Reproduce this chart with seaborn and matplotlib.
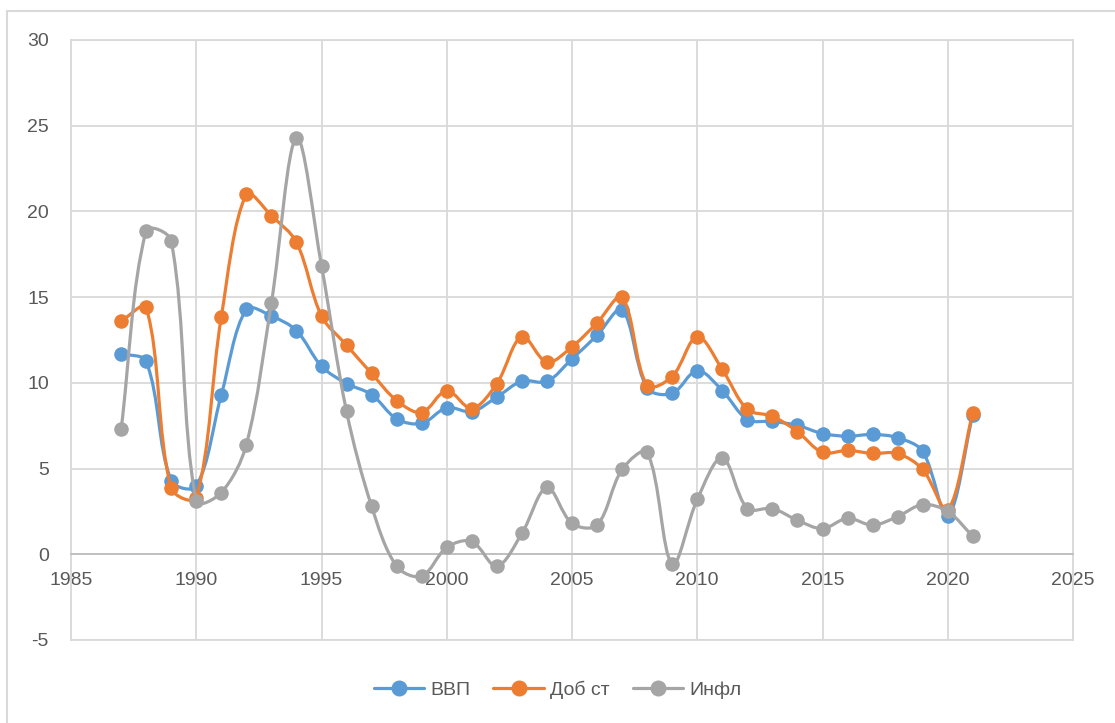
import numpy as np
import pandas as pd
import matplotlib
matplotlib.use('Agg')
import matplotlib.pyplot as plt
import seaborn as sns
from matplotlib.path import Path
from matplotlib.patches import PathPatch
from matplotlib.lines import Line2D

years = list(range(1987, 2022))
vvp = [11.7, 11.25, 4.3, 3.97, 9.3, 14.3, 13.9, 13.05, 10.97, 9.96, 9.32, 7.9,
       7.63, 8.55, 8.32, 9.17, 10.1, 10.08, 11.4, 12.77, 14.27, 9.7, 9.38, 10.72,
       9.55, 7.86, 7.75, 7.52, 7.04, 6.89, 6.99, 6.8, 6.0, 2.22, 8.15]
dob = [13.6, 14.4, 3.85, 3.3, 13.85, 21.0, 19.75, 18.2, 13.9, 12.2, 10.55, 8.97,
       8.27, 9.55, 8.5, 9.96, 12.7, 11.2, 12.1, 13.5, 15.0, 9.84, 10.37, 12.7,
       10.78, 8.45, 8.05, 7.16, 5.94, 6.06, 5.88, 5.88, 4.95, 2.6, 8.27]
infl = [7.28, 18.87, 18.3, 3.1, 3.6, 6.4, 14.67, 24.3, 16.83, 8.33, 2.8, -0.7,
        -1.28, 0.4, 0.75, -0.7, 1.22, 3.9, 1.8, 1.7, 4.95, 5.94, -0.58, 3.2,
        5.64, 2.67, 2.67, 1.98, 1.5, 2.1, 1.7, 2.2, 2.9, 2.5, 1.05]

names = ['ВВП', 'Доб ст', 'Инфл']
colors = ['#5B9BD5', '#ED7D31', '#A5A5A5']

df = pd.DataFrame({'year': years * 3,
                   'value': vvp + dob + infl,
                   'series': [n for n in names for _ in years]})


def smooth_path(x, y, sx=25.0, sy=17.17, t=1 / 3):
    # excel-like smoothed line: bezier with tangents weighted by segment length
    pts = np.column_stack([x, y]).astype(float)
    scale = np.array([sx, sy])
    n = len(pts)
    seg = [np.linalg.norm((pts[i + 1] - pts[i]) * scale) for i in range(n - 1)]
    out_c, in_c = [], []
    for i in range(n):
        p_prev = pts[max(i - 1, 0)]
        p_next = pts[min(i + 1, n - 1)]
        d = p_next - p_prev
        l_in = seg[i - 1] if i > 0 else 0.0
        l_out = seg[i] if i < n - 1 else 0.0
        tot = l_in + l_out if (l_in + l_out) > 0 else 1.0
        out_c.append(pts[i] + d * t * l_out / tot)
        in_c.append(pts[i] - d * t * l_in / tot)
    verts = [pts[0]]
    codes = [Path.MOVETO]
    for i in range(n - 1):
        verts += [out_c[i], in_c[i + 1], pts[i + 1]]
        codes += [Path.CURVE4] * 3
    return Path(verts, codes)


sns.set_style('white')
plt.rcParams['font.family'] = ['Liberation Sans', 'DejaVu Sans']
plt.rcParams['axes.unicode_minus'] = False

fig = plt.figure(figsize=(11.15, 7.23), dpi=100)
ax = fig.add_axes([71 / 1115, 1 - 640 / 723, 1002 / 1115, 600 / 723])

grid_c = '#D9D9D9'
for i, name in enumerate(names):
    sub = df[df['series'] == name]
    ax.add_patch(PathPatch(smooth_path(sub['year'], sub['value']), fill=False,
                           edgecolor=colors[i], lw=2.3, zorder=3 + 2 * i,
                           capstyle='round', joinstyle='round'))
    sns.scatterplot(data=sub, x='year', y='value', color=colors[i], s=110,
                    linewidth=0, ax=ax, zorder=4 + 2 * i, legend=False)

ax.set_xlim(1985, 2025)
ax.set_ylim(-5, 30)
ax.set_xticks(range(1985, 2026, 5))
ax.set_yticks(range(-5, 31, 5))
ax.grid(True, color=grid_c, lw=1.3)
ax.set_axisbelow(True)
for s in ['top', 'left', 'right']:
    ax.spines[s].set_color(grid_c)
    ax.spines[s].set_linewidth(1.3)
ax.spines['bottom'].set_position(('data', 0))
ax.spines['bottom'].set_color('#BFBFBF')
ax.spines['bottom'].set_linewidth(1.3)
ax.axhline(-5, color=grid_c, lw=1.3, clip_on=False)
ax.tick_params(axis='x', length=0, pad=13, labelsize=14, labelcolor='#595959')
ax.tick_params(axis='y', length=0, pad=16, labelsize=14, labelcolor='#595959')
ax.set_xlabel('')
ax.set_ylabel('')

handles = [Line2D([0], [0], color=c, lw=2.3, marker='o', ms=10.5) for c in colors]
leg = fig.legend(handles, names, loc='center', bbox_to_anchor=(0.5, 1 - 690 / 723),
                 ncol=3, frameon=False, fontsize=14, handlelength=2.6,
                 columnspacing=1.2, handletextpad=0.3)
for t in leg.get_texts():
    t.set_color('#595959')

# chart border (top and left edges visible)
fig.add_artist(Line2D([7 / 1115, 7 / 1115], [0, 1 - 11 / 723], color=grid_c, lw=1.5))
fig.add_artist(Line2D([7 / 1115, 1], [1 - 11 / 723, 1 - 11 / 723], color=grid_c, lw=1.5))

fig.savefig('out.png', dpi=100)
